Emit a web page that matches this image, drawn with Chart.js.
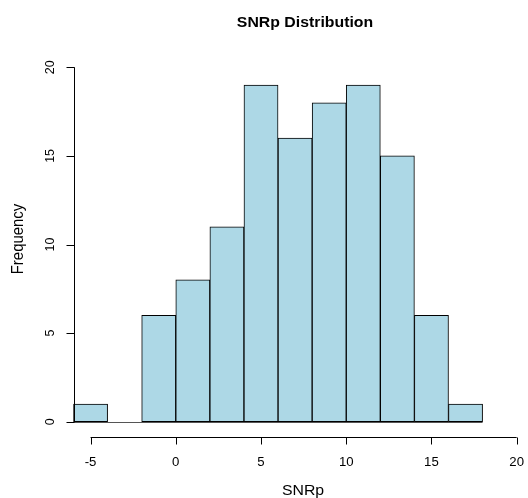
<!DOCTYPE html>
<html>
<head>
<meta charset="utf-8">
<script src="https://cdn.jsdelivr.net/npm/chart.js@4/dist/chart.umd.min.js"></script>
<style>html,body{margin:0;padding:0;background:#fff}</style>
</head>
<body>
<canvas id="histograma" width="528" height="498"></canvas>
<script>
// dados do histograma (SNRp)
const binStarts = [-6, -4, -2, 0, 2, 4, 6, 8, 10, 12, 14, 16];
const binWidth = 2;
const frequencias = [1, 0, 6, 8, 11, 19, 16, 18, 19, 15, 6, 1];
const xTicks = [-5, 0, 5, 10, 15, 20];
const yTicks = [0, 5, 10, 15, 20];
const titulo = "SNRp Distribution";
const rotuloX = "SNRp";
const rotuloY = "Frequency";

const pontos = binStarts.map((b, i) => ({ x: b + binWidth / 2, y: frequencias[i] }));

// texto levemente esticado (imagem original foi reescalada)
const SX = 1.1, SY = 1.0375;
function texto(ctx, s, x, y, font, rot) {
    ctx.save();
    ctx.translate(x, y);
    ctx.scale(SX, SY);
    if (rot) ctx.rotate(-Math.PI / 2);
    ctx.font = font;
    ctx.fillStyle = "#000";
    ctx.textAlign = "center";
    ctx.textBaseline = "alphabetic";
    ctx.fillText(s, 0, 0);
    ctx.restore();
}

// eixos no estilo do R
const eixosR = {
    id: "eixosR",
    afterDraw(chart) {
        const ctx = chart.ctx;
        const x = chart.scales.x, y = chart.scales.y;
        const y0 = y.getPixelForValue(0);
        ctx.save();
        ctx.strokeStyle = "#000";
        ctx.lineWidth = 1;

        // linha de base (zero)
        ctx.strokeStyle = "#555";
        ctx.beginPath();
        ctx.moveTo(x.getPixelForValue(binStarts[0]), Math.round(y0) + 0.5);
        ctx.lineTo(x.getPixelForValue(binStarts[binStarts.length - 1] + binWidth), Math.round(y0) + 0.5);
        ctx.stroke();
        ctx.strokeStyle = "#000";

        // eixo x
        const ax = Math.round(y0 + 15) + 0.5;
        ctx.beginPath();
        ctx.moveTo(x.getPixelForValue(xTicks[0]), ax);
        ctx.lineTo(x.getPixelForValue(xTicks[xTicks.length - 1]), ax);
        xTicks.forEach(t => {
            const px = Math.round(x.getPixelForValue(t)) + 0.5;
            ctx.moveTo(px, ax);
            ctx.lineTo(px, ax + 7);
        });
        ctx.stroke();
        xTicks.forEach(t => texto(ctx, String(t), x.getPixelForValue(t), 465.5, "12px 'Liberation Sans', Arial, sans-serif", false));

        // eixo y
        const ay = Math.round(x.getPixelForValue(binStarts[0])) + 0.5;
        ctx.beginPath();
        ctx.moveTo(ay, y.getPixelForValue(yTicks[0]));
        ctx.lineTo(ay, y.getPixelForValue(yTicks[yTicks.length - 1]));
        yTicks.forEach(t => {
            const py = Math.round(y.getPixelForValue(t)) + 0.5;
            ctx.moveTo(ay, py);
            ctx.lineTo(ay - 8, py);
        });
        ctx.stroke();
        yTicks.forEach(t => texto(ctx, String(t), 53.5, y.getPixelForValue(t), "12px 'Liberation Sans', Arial, sans-serif", true));

        // títulos
        texto(ctx, titulo, 305, 27, "bold 14.4px 'Liberation Sans', Arial, sans-serif", false);
        texto(ctx, rotuloX, 303, 495, "14.4px 'Liberation Sans', Arial, sans-serif", false);
        texto(ctx, rotuloY, 22.5, 239, "14.4px 'Liberation Sans', Arial, sans-serif", true);
        ctx.restore();
    }
};

new Chart(document.getElementById("histograma"), {
    type: "bar",
    data: {
        datasets: [{
            data: pontos,
            backgroundColor: "#ADD8E6",
            borderColor: "#000",
            borderWidth: 1,
            borderSkipped: false,
            barPercentage: 1,
            categoryPercentage: 1
        }]
    },
    options: {
        responsive: false,
        animation: false,
        layout: { padding: { left: 65, right: 2.8, top: 49.6, bottom: 58.6 } },
        plugins: { legend: { display: false }, tooltip: { enabled: false }, title: { display: false } },
        scales: {
            x: { type: "linear", min: -6.5, max: 20.5, display: false, offset: false },
            y: { min: -1, max: 21, display: false }
        }
    },
    plugins: [eixosR]
});
</script>
</body>
</html>
